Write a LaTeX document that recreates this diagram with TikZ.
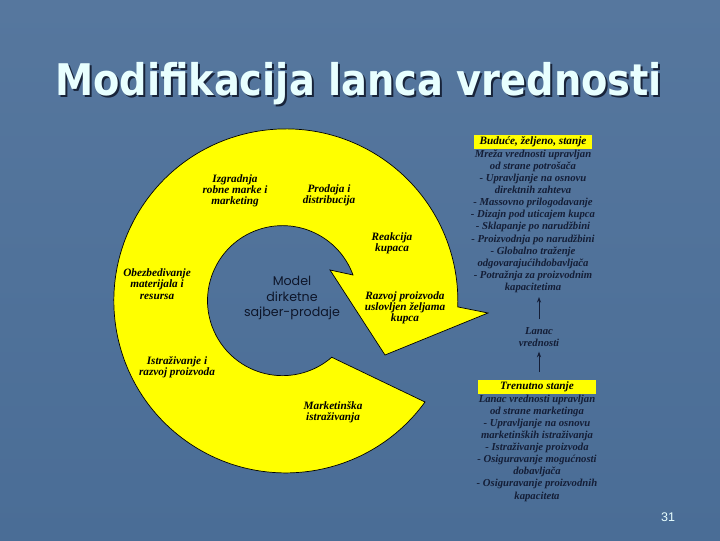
\documentclass[tikz,border=0pt]{standalone}
\usepackage{graphicx}
\usepackage{fontspec}
\setmainfont{Liberation Serif}
\newfontfamily\titlefont{DejaVu Sans}
\newfontfamily\modelfont{Poppins}
\newfontfamily\numfont{Liberation Sans}
\usetikzlibrary{positioning,arrows.meta}
\definecolor{slidetop}{RGB}{86,119,158}
\definecolor{slidebot}{RGB}{74,109,150}
\definecolor{ink}{RGB}{20,30,55}
\definecolor{modelink}{RGB}{14,22,42}
\definecolor{titlecol}{RGB}{232,255,255}
\definecolor{shadowcol}{RGB}{24,36,58}
\definecolor{yel}{RGB}{255,255,0}
\begin{document}
\begin{tikzpicture}[x=0.025cm,y=0.025cm,
  ring text/.style={font=\bfseries\itshape\fontsize{8}{8}\selectfont,align=center,text=black,inner sep=0pt},
  col text/.style={font=\bfseries\itshape\fontsize{7.6}{8.6}\selectfont,align=center,text=ink,inner sep=0pt},
  state box/.style={fill=yel,font=\bfseries\itshape\fontsize{8}{8.6}\selectfont,text=black,minimum width=2.93cm,minimum height=0.33cm,inner sep=0pt},
  up arrow/.style={-{Stealth[length=4pt,width=3pt]},ink,line width=0.6pt}]

  \useasboundingbox (0,0) rectangle (720,540);
  \shade[top color=slidetop,bottom color=slidebot] (0,0) rectangle (720,540);

  % title
  \node[anchor=base,text=shadowcol,font=\titlefont\bfseries\fontsize{31}{31}\selectfont] (titleshadow) at (360.5,442.5) {\scalebox{0.88}[1]{Modifikacija lanca vrednosti}};
  \node[anchor=base,text=titlecol,font=\titlefont\bfseries\fontsize{31}{31}\selectfont] (title) at (358.5,444.5) {\scalebox{0.88}[1]{Modifikacija lanca vrednosti}};

  % the ring with its arrow head
  \draw[fill=yel,line width=0.5pt] (425,138) arc[start angle=-36,end angle=-362,radius=172]
    -- (488,227) -- (385,185) -- (330,270) -- (353,265)
    arc[start angle=20,end angle=311,radius=75] -- cycle;

  \node[ring text] (izgradnja) at (235,349) {Izgradnja\\robne marke i\\marketing};
  \node[ring text] (prodaja) at (329,345) {Prodaja i\\distribucija};
  \node[ring text] (reakcija) at (392,297) {Reakcija\\kupaca};
  \node[ring text] (obezbedivanje) at (157,256) {Obezbedivanje\\materijala i\\resursa};
  \node[ring text] (razvoj) at (405,232) {Razvoj proizvoda\\uslovljen željama\\kupca};
  \node[ring text] (istrazivanje) at (177,173) {Istraživanje i\\razvoj proizvoda};
  \node[ring text] (marketinska) at (333,128) {Marketinška\\istraživanja};
  \node[align=center,text=modelink,inner sep=0pt,font=\modelfont\fontsize{9}{11.3}\selectfont] (model) at (292,242) {Model\\dirketne\\sajber-prodaje};

  % future and present state
  \node[state box] (buduce) at (533,398) {Buduće, željeno, stanje};
  \node[col text,below=0.5pt of buduce] (mreza) {Mreža vrednosti upravljan\\od strane potrošača\\- Upravljanje na osnovu\\direktnih zahteva\\- Massovno prilogodavanje\\- Dizajn pod uticajem kupca\\- Sklapanje po narudžbini\\- Proizvodnja po narudžbini\\- Globalno traženje\\odgovarajućihdobavljača\\- Potražnja za proizvodnim\\kapacitetima};
  \node[col text] (lanac) at (539,203) {Lanac\\vrednosti};
  \node[state box] (trenutno) at (537,153) {Trenutno stanje};
  \node[col text,below=0.5pt of trenutno] (marketing) {Lanac vrednosti upravljan\\od strane marketinga\\- Upravljanje na osnovu\\marketinških istraživanja\\- Istraživanje proizvoda\\- Osiguravanje mogućnosti\\dobavljača\\- Osiguravanje proizvodnih\\kapaciteta};

  \draw[up arrow,shorten <=0.2cm,shorten >=0.1cm] (lanac.north) -- (lanac.north |- mreza.south);
  \draw[up arrow,shorten <=0.2cm,shorten >=0.12cm] (trenutno.north -| lanac.south) -- (lanac.south);

  \node[text=titlecol,font=\numfont\fontsize{8.9}{9}\selectfont] (page) at (668,23) {31};
\end{tikzpicture}
\end{document}
